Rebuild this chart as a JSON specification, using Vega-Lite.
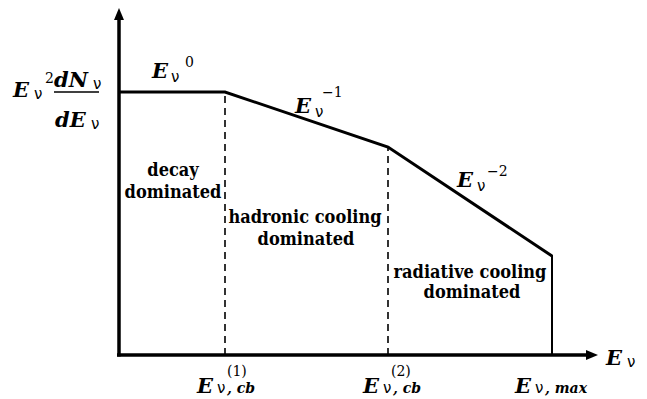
{
  "$schema": "https://vega.github.io/schema/vega-lite/v6.json",
  "width": 647,
  "height": 399,
  "padding": 0,
  "autosize": {"type": "none"},
  "background": "white",
  "config": {"view": {"stroke": null}},
  "encoding": {
    "x": {"field": "x", "type": "quantitative", "scale": {"domain": [-119, 528], "nice": false, "zero": false}, "axis": null},
    "y": {"field": "y", "type": "quantitative", "scale": {"domain": [-44, 355], "nice": false, "zero": false}, "axis": null}
  },
  "layer": [
    {
      "data": {"values": [
        {"x": -2, "y": 0, "x2": 467, "y2": 0},
        {"x": 0, "y": -1.5, "x2": 0, "y2": 335}
      ]},
      "mark": {"type": "rule", "color": "black", "strokeWidth": 3.5},
      "encoding": {"x2": {"field": "x2"}, "y2": {"field": "y2"}}
    },
    {
      "data": {"values": [{"x": 0, "y": 341}]},
      "mark": {"type": "point", "shape": "M0,-1L0.83,1L-0.83,1Z", "size": 144, "filled": true, "color": "black", "opacity": 1},
      "encoding": {}
    },
    {
      "data": {"values": [{"x": 473, "y": 0}]},
      "mark": {"type": "point", "shape": "M1,0L-1,0.83L-1,-0.83Z", "size": 144, "filled": true, "color": "black", "opacity": 1},
      "encoding": {}
    },
    {
      "data": {"values": [
        {"x": 0, "y": 263, "i": 0},
        {"x": 106, "y": 263, "i": 1},
        {"x": 269, "y": 208, "i": 2},
        {"x": 433, "y": 99, "i": 3}
      ]},
      "mark": {"type": "line", "color": "black", "strokeWidth": 3},
      "encoding": {"order": {"field": "i", "type": "quantitative"}}
    },
    {
      "data": {"values": [{"x": 433, "y": 0, "y2": 100}]},
      "mark": {"type": "rule", "color": "black", "strokeWidth": 2},
      "encoding": {"y2": {"field": "y2"}}
    },
    {
      "data": {"values": [
        {"x": 106, "y": 0, "y2": 263},
        {"x": 269, "y": 0, "y2": 208}
      ]},
      "mark": {"type": "rule", "color": "black", "strokeWidth": 1.6, "strokeDash": [7, 5]},
      "encoding": {"y2": {"field": "y2"}}
    },
    {
      "data": {"values": [{"x": -65, "x2": -20, "y": 263}]},
      "mark": {"type": "rule", "color": "black", "strokeWidth": 1.5},
      "encoding": {"x2": {"field": "x2"}}
    },
    {
      "data": {"values": [
        {"x": 33, "y": 277, "t": "E"},
        {"x": 176, "y": 242, "t": "E"},
        {"x": 338, "y": 168, "t": "E"},
        {"x": -106, "y": 258, "t": "E"},
        {"x": -65, "y": 268, "t": "dN"},
        {"x": -64, "y": 228, "t": "dE"},
        {"x": 78, "y": -38, "t": "E"},
        {"x": 244, "y": -38, "t": "E"},
        {"x": 396, "y": -38, "t": "E"},
        {"x": 487, "y": -10, "t": "E"}
      ]},
      "mark": {"type": "text", "font": "DejaVu Serif", "fontStyle": "italic", "fontWeight": "bold", "fontSize": 21, "align": "left", "baseline": "alphabetic", "color": "black"},
      "encoding": {"text": {"field": "t"}}
    },
    {
      "data": {"values": [
        {"x": 52, "y": 273, "t": "ν"},
        {"x": 196, "y": 238, "t": "ν"},
        {"x": 358, "y": 164, "t": "ν"},
        {"x": -85, "y": 256, "t": "ν"},
        {"x": -26, "y": 266, "t": "ν"},
        {"x": -28, "y": 226, "t": "ν"},
        {"x": 98, "y": -38, "t": "ν"},
        {"x": 264, "y": -38, "t": "ν"},
        {"x": 416, "y": -38, "t": "ν"},
        {"x": 508, "y": -12, "t": "ν"}
      ]},
      "mark": {"type": "text", "font": "DejaVu Sans", "fontSize": 15, "align": "left", "baseline": "alphabetic", "color": "black"},
      "encoding": {"text": {"field": "t"}}
    },
    {
      "data": {"values": [
        {"x": 66, "y": 288, "t": "0"},
        {"x": 203, "y": 258, "t": "−1"},
        {"x": 368, "y": 179, "t": "−2"},
        {"x": -74, "y": 272, "t": "2"},
        {"x": 108, "y": -21, "t": "(1)"},
        {"x": 272, "y": -21, "t": "(2)"}
      ]},
      "mark": {"type": "text", "font": "DejaVu Serif", "fontSize": 14, "align": "left", "baseline": "alphabetic", "color": "black"},
      "encoding": {"text": {"field": "t"}}
    },
    {
      "data": {"values": [
        {"x": 108, "y": -38, "t": ", cb"},
        {"x": 274, "y": -38, "t": ", cb"},
        {"x": 426, "y": -38, "t": ", max"}
      ]},
      "mark": {"type": "text", "font": "DejaVu Serif", "fontStyle": "italic", "fontWeight": "bold", "fontSize": 14, "align": "left", "baseline": "alphabetic", "color": "black"},
      "encoding": {"text": {"field": "t"}}
    },
    {
      "data": {"values": [
        {"x": 54, "y": 179, "t": "decay"},
        {"x": 54, "y": 157, "t": "dominated"},
        {"x": 186, "y": 132, "t": "hadronic cooling"},
        {"x": 187, "y": 110, "t": "dominated"},
        {"x": 351, "y": 77, "t": "radiative cooling"},
        {"x": 353, "y": 57, "t": "dominated"}
      ]},
      "mark": {"type": "text", "font": "DejaVu Serif Condensed", "fontWeight": "bold", "fontSize": 18, "align": "center", "baseline": "alphabetic", "color": "black"},
      "encoding": {"text": {"field": "t"}}
    }
  ]
}
